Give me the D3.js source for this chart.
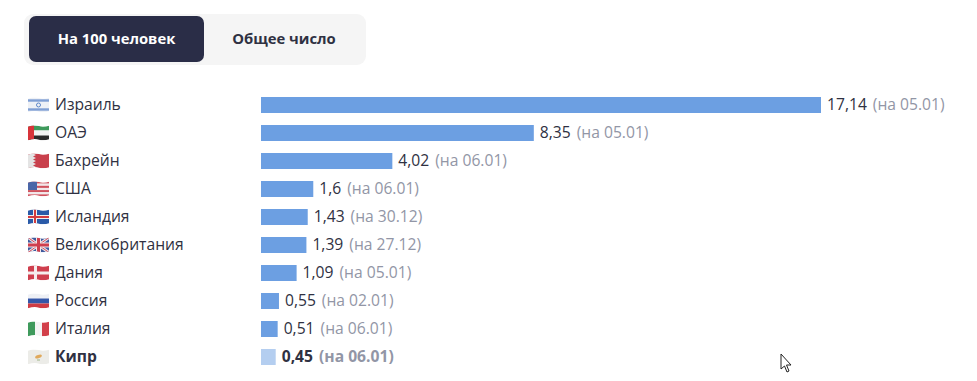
<!DOCTYPE html>
<html>
<head>
<meta charset="utf-8">
<script src="https://cdn.jsdelivr.net/npm/d3@7"></script>
<style>
  html, body { margin: 0; padding: 0; background: #fff; }
  text { font-family: "Open Sans", "Noto Sans", sans-serif; }
</style>
</head>
<body>
<div id="chart"></div>
<script>
const countries = ["Израиль", "ОАЭ", "Бахрейн", "США", "Исландия", "Великобритания", "Дания", "Россия", "Италия", "Кипр"]
const values = [17.14, 8.35, 4.02, 1.6, 1.43, 1.39, 1.09, 0.55, 0.51, 0.45]
const value_labels = ["17,14", "8,35", "4,02", "1,6", "1,43", "1,39", "1,09", "0,55", "0,51", "0,45"]
const dates = ["05.01", "05.01", "06.01", "06.01", "30.12", "27.12", "05.01", "02.01", "06.01", "06.01"]
const flag_codes = ["il", "ae", "bh", "us", "is", "gb", "dk", "ru", "it", "cy"]
const tabs = ["На 100 человек", "Общее число"]
const highlighted = "Кипр"

const width = 977, height = 381
const c_bar = "#6c9fe2", c_bar_light = "#b4cef0", c_text = "#2f3142", c_date = "#9296a6", c_tab = "#2a2d47"

const svg = d3.select("#chart").append("svg")
    .attr("width", width)
    .attr("height", height)
    .style("display", "block")

// Tabs
svg.append("rect").attr("x", 24).attr("y", 14).attr("width", 342).attr("height", 51)
    .attr("rx", 9).attr("fill", "#f5f5f5")
svg.append("rect").attr("x", 29).attr("y", 16).attr("width", 175).attr("height", 46)
    .attr("rx", 7).attr("fill", c_tab)

svg.selectAll(".tab").data(tabs).enter().append("text")
    .attr("class", "tab")
    .attr("x", (d, i) => i == 0 ? 116.5 : 284)
    .attr("y", 43.5)
    .attr("text-anchor", "middle")
    .attr("font-size", 14.8)
    .attr("font-weight", 700)
    .attr("fill", (d, i) => i == 0 ? "#fff" : c_text)
    .text(d => d)

// Scales
const x_scale = d3.scaleLinear().domain([0, 17.14]).range([261, 821])
const y_scale = d3.scaleBand().domain(countries).range([91.4, 370.6]).paddingInner(0.4286).paddingOuter(0.2)

const row = svg.selectAll(".row").data(countries).enter().append("g")
    .attr("class", "row")
    .attr("transform", d => "translate(0," + y_scale(d) + ")")

const h = y_scale.bandwidth()

row.append("rect")
    .attr("x", x_scale(0))
    .attr("y", 0)
    .attr("width", (d, i) => x_scale(values[i]) - x_scale(0))
    .attr("height", h)
    .attr("fill", d => d == highlighted ? c_bar_light : c_bar)

row.append("text")
    .attr("x", 55)
    .attr("y", h / 2 + 5)
    .attr("font-size", 15.65)
    .attr("font-weight", d => d == highlighted ? 700 : 400)
    .attr("fill", c_text)
    .text(d => d)

const value_text = row.append("text")
    .attr("x", (d, i) => x_scale(values[i]) + 6)
    .attr("y", h / 2 + 5)
    .attr("font-size", 15.65)
    .attr("font-weight", d => d == highlighted ? 700 : 400)

value_text.append("tspan").attr("fill", c_text).text((d, i) => value_labels[i])
value_text.append("tspan").attr("fill", c_date).attr("dx", 6).text((d, i) => "(на " + dates[i] + ")")

// Flags, drawn in a 21x15 box with a slightly wavy edge
const flag_w = 21, flag_h = 15
const defs = svg.append("defs")
defs.append("clipPath").attr("id", "flag_clip").append("path")
    .attr("d", "M0,1.2 C4,-0.4 8,-0.4 11,0.6 C14,1.6 18,1.2 21,0.2 L21,13.8 C18,14.8 14,15.2 11,14.2 C8,13.2 4,13.4 0,14.8 Z")

function stripes(g, colors, vertical){
  const n = colors.length
  colors.forEach(function(c, i){
    g.append("rect")
      .attr("x", vertical ? i * flag_w / n : 0)
      .attr("y", vertical ? 0 : i * flag_h / n)
      .attr("width", vertical ? flag_w / n : flag_w)
      .attr("height", vertical ? flag_h : flag_h / n)
      .attr("fill", c)
  })
}

function box(g, x, y, w, h, c){
  g.append("rect").attr("x", x).attr("y", y).attr("width", w).attr("height", h).attr("fill", c)
}

const flag_painters = {
  il: function(g){
    stripes(g, ["#eef1f6"], false)
    box(g, 0, 1.8, 21, 2.4, "#7f9fd4"); box(g, 0, 10.8, 21, 2.4, "#7f9fd4")
    g.append("circle").attr("cx", 10.5).attr("cy", 7.5).attr("r", 2).attr("fill", "none").attr("stroke", "#5c86c8")
  },
  ae: function(g){
    stripes(g, ["#3f9a5c", "#f3f3f3", "#2a2a2a"], false)
    box(g, 0, 0, 6, 15, "#d8343a")
  },
  bh: function(g){
    stripes(g, ["#c9404c"], false)
    box(g, 0, 0, 5, 15, "#e4e4e4")
    g.append("path").attr("d", "M5,0 L8,1.5 L5,3 L8,4.5 L5,6 L8,7.5 L5,9 L8,10.5 L5,12 L8,13.5 L5,15 Z").attr("fill", "#e4e4e4")
  },
  us: function(g){
    stripes(g, ["#d0525e", "#f2e8ea", "#d0525e", "#f2e8ea", "#d0525e", "#f2e8ea", "#d0525e"], false)
    box(g, 0, 0, 9, 8.5, "#4a66a8")
  },
  is: function(g){
    stripes(g, ["#2a5aa8"], false)
    box(g, 5, 0, 4, 15, "#f0f0f0"); box(g, 0, 5.5, 21, 4, "#f0f0f0")
    box(g, 6, 0, 2, 15, "#d23b3f"); box(g, 0, 6.5, 21, 2, "#d23b3f")
  },
  gb: function(g){
    stripes(g, ["#3f5a9e"], false)
    g.append("path").attr("d", "M0,0 L21,15 M21,0 L0,15").attr("stroke", "#f0e6e8").attr("stroke-width", 3)
    g.append("path").attr("d", "M0,0 L21,15 M21,0 L0,15").attr("stroke", "#cf4a58").attr("stroke-width", 1)
    box(g, 8, 0, 5, 15, "#f0e6e8"); box(g, 0, 5, 21, 5, "#f0e6e8")
    box(g, 9, 0, 3, 15, "#cf3f4e"); box(g, 0, 6, 21, 3, "#cf3f4e")
  },
  dk: function(g){
    stripes(g, ["#cf3f4e"], false)
    box(g, 6, 0, 3, 15, "#f5eeee"); box(g, 0, 6, 21, 3, "#f5eeee")
  },
  ru: function(g){
    stripes(g, ["#eef0f5", "#3557a8", "#cf3c44"], false)
  },
  it: function(g){
    stripes(g, ["#3f9a5c", "#f4f4f4", "#d2404a"], true)
  },
  cy: function(g){
    stripes(g, ["#ecece8"], false)
    g.append("ellipse").attr("cx", 10.5).attr("cy", 7).attr("rx", 3.5).attr("ry", 1.7).attr("fill", "#e0a95c")
      .attr("transform", "rotate(-20 10.5 7)")
    box(g, 9, 10, 3, 1, "#9db58a")
  }
}

const flags = row.append("g")
    .attr("transform", "translate(28," + (h / 2 - flag_h / 2) + ")")
    .attr("clip-path", "url(#flag_clip)")
flags.each(function(d, i){ flag_painters[flag_codes[i]](d3.select(this)) })

// Mouse cursor left in the screenshot
svg.append("path")
    .attr("d", "M781,354 L781,369 L784.5,366 L787,372 L789,371 L786.5,365 L791,365 Z")
    .attr("fill", "#fff")
    .attr("stroke", "#222")
    .attr("stroke-width", 1)
</script>
</body>
</html>
